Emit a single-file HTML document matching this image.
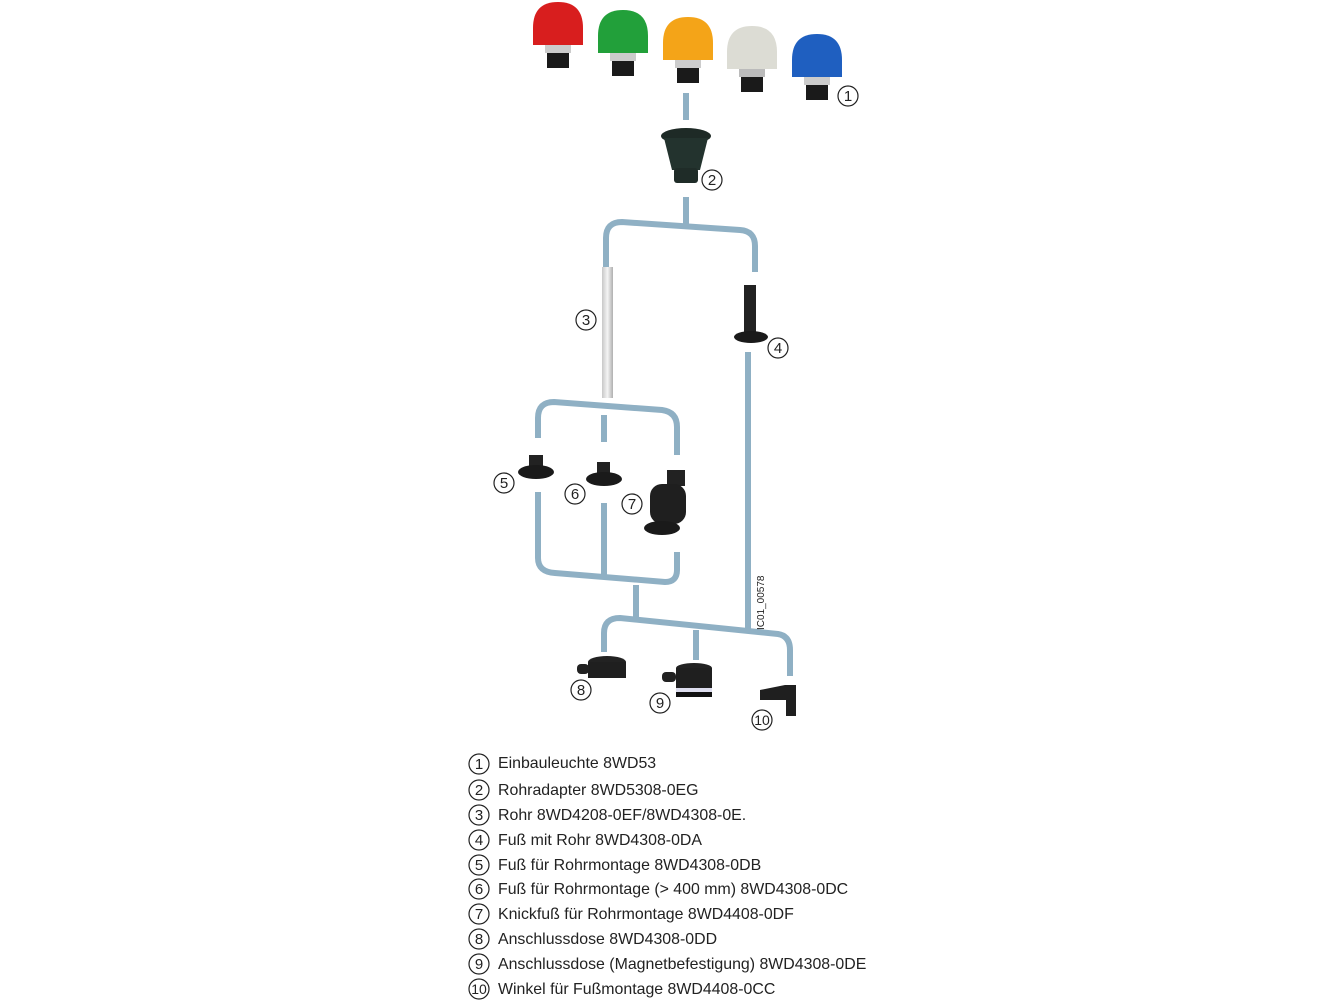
<!DOCTYPE html>
<html><head><meta charset="utf-8"><style>
body{margin:0;background:#fff;width:1333px;height:1000px;overflow:hidden;font-family:"Liberation Sans",sans-serif}
</style></head><body>
<svg width="1333" height="1000" viewBox="0 0 1333 1000" xmlns="http://www.w3.org/2000/svg" font-family="Liberation Sans, sans-serif">
<defs>
<linearGradient id="rod" x1="0" x2="1"><stop offset="0" stop-color="#c8c8c8"/><stop offset=".5" stop-color="#f4f4f4"/><stop offset="1" stop-color="#b0b0b0"/></linearGradient>
</defs>
<!-- lights -->
<g>
<g transform="translate(558,0)"><path d="M-25,45 L-25,28 Q-25,2 0,2 Q25,2 25,28 L25,45 Z" fill="#d81e1e"/><rect x="-13" y="45" width="26" height="8" fill="#ccc"/><rect x="-11" y="53" width="22" height="15" fill="#1a1a1a"/></g>
<g transform="translate(623,8)"><path d="M-25,45 L-25,28 Q-25,2 0,2 Q25,2 25,28 L25,45 Z" fill="#22a03a"/><rect x="-13" y="45" width="26" height="8" fill="#ccc"/><rect x="-11" y="53" width="22" height="15" fill="#1a1a1a"/></g>
<g transform="translate(688,15)"><path d="M-25,45 L-25,28 Q-25,2 0,2 Q25,2 25,28 L25,45 Z" fill="#f4a418"/><rect x="-13" y="45" width="26" height="8" fill="#ccc"/><rect x="-11" y="53" width="22" height="15" fill="#1a1a1a"/></g>
<g transform="translate(752,24)"><path d="M-25,45 L-25,28 Q-25,2 0,2 Q25,2 25,28 L25,45 Z" fill="#dcdcd4"/><rect x="-13" y="45" width="26" height="8" fill="#bbb"/><rect x="-11" y="53" width="22" height="15" fill="#1a1a1a"/></g>
<g transform="translate(817,32)"><path d="M-25,45 L-25,28 Q-25,2 0,2 Q25,2 25,28 L25,45 Z" fill="#1f5fc0"/><rect x="-13" y="45" width="26" height="8" fill="#ccc"/><rect x="-11" y="53" width="22" height="15" fill="#1a1a1a"/></g>
</g>
<!-- pipes -->
<g fill="none" stroke="#8fb0c4" stroke-width="6" stroke-linejoin="round">
<path d="M686,93 V120"/>
<path d="M686,197 V225"/>
<path d="M606,270 V238 Q606,222 622,222 L740,230 Q755,231 755,246 V272"/>
<path d="M748,352 V630"/>
<path d="M538,438 V418 Q538,402 554,402 L662,410 Q677,412 677,427 V455"/>
<path d="M604,415 V442"/>
<path d="M538,492 V558 Q538,572 555,573 L665,582 Q677,582 677,570 V552"/>
<path d="M604,503 V578"/>
<path d="M636,585 V617"/>
<path d="M604,652 V633 Q604,618 620,618 L778,634 Q790,636 790,650 V676"/>
<path d="M696,630 V660"/>
</g>
<!-- adapter 2 -->
<ellipse cx="686" cy="136" rx="25" ry="8" fill="#1e2a26"/>
<path d="M664,138 L672,170 L700,170 L708,138 Z" fill="#23332e"/>
<rect x="674" y="168" width="24" height="15" rx="3" fill="#1f2c28"/>
<!-- rod 3 -->
<rect x="602" y="267" width="11" height="131" fill="url(#rod)"/>
<!-- foot 4 -->
<rect x="744" y="285" width="12" height="48" fill="#222"/>
<ellipse cx="751" cy="337" rx="17" ry="6" fill="#1a1a1a"/>
<!-- 5,6 -->
<rect x="529" y="455" width="14" height="15" fill="#222"/><ellipse cx="536" cy="472" rx="18" ry="7" fill="#1a1a1a"/>
<rect x="597" y="462" width="13" height="15" fill="#222"/><ellipse cx="604" cy="479" rx="18" ry="7" fill="#1a1a1a"/>
<!-- 7 -->
<rect x="667" y="470" width="18" height="16" fill="#222"/>
<rect x="650" y="484" width="36" height="40" rx="12" fill="#1f1f1f"/>
<ellipse cx="662" cy="528" rx="18" ry="7" fill="#1a1a1a"/>
<!-- 8,9,10 -->
<ellipse cx="607" cy="662" rx="19" ry="6" fill="#222"/><rect x="588" y="662" width="38" height="16" fill="#1f1f1f"/><rect x="577" y="664" width="12" height="10" rx="4" fill="#222"/>
<ellipse cx="694" cy="668" rx="18" ry="5" fill="#222"/><rect x="676" y="668" width="36" height="20" fill="#1f1f1f"/><rect x="676" y="688" width="36" height="4" fill="#dde"/><rect x="676" y="692" width="36" height="5" fill="#111"/><rect x="662" y="672" width="14" height="10" rx="4" fill="#222"/>
<path d="M760,690 L785,685 L796,685 V716 H786 V700 L760,700 Z" fill="#1f1f1f"/>
<!-- callouts -->
<g fill="none" stroke="#222" stroke-width="1.2">
<circle cx="848" cy="96" r="10"/><circle cx="712" cy="180" r="10"/><circle cx="586" cy="320" r="10"/><circle cx="778" cy="348" r="10"/>
<circle cx="504" cy="483" r="10"/><circle cx="575" cy="494" r="10"/><circle cx="632" cy="504" r="10"/>
<circle cx="581" cy="690" r="10"/><circle cx="660" cy="703" r="10"/><circle cx="762" cy="720" r="10"/>
</g>
<g font-size="15" text-anchor="middle" fill="#222">
<text x="848" y="101">1</text><text x="712" y="185">2</text><text x="586" y="325">3</text><text x="778" y="353">4</text>
<text x="504" y="488">5</text><text x="575" y="499">6</text><text x="632" y="509">7</text>
<text x="581" y="695">8</text><text x="660" y="708">9</text><text x="762" y="725" font-size="14">10</text>
</g>
<text transform="translate(764,630) rotate(-90)" font-size="10" fill="#222">IC01_00578</text>
<!-- legend -->
<g fill="none" stroke="#222" stroke-width="1.2">
<circle cx="479" cy="764" r="10"/><circle cx="479" cy="790" r="10"/><circle cx="479" cy="815" r="10"/><circle cx="479" cy="840" r="10"/><circle cx="479" cy="865" r="10"/><circle cx="479" cy="889" r="10"/><circle cx="479" cy="914" r="10"/><circle cx="479" cy="939" r="10"/><circle cx="479" cy="964" r="10"/><circle cx="479" cy="989" r="10"/>
</g>
<g font-size="15" text-anchor="middle" fill="#222">
<text x="479" y="769">1</text><text x="479" y="795">2</text><text x="479" y="820">3</text><text x="479" y="845">4</text><text x="479" y="870">5</text><text x="479" y="894">6</text><text x="479" y="919">7</text><text x="479" y="944">8</text><text x="479" y="969">9</text><text x="479" y="994" font-size="14">10</text>
</g>
<g font-size="15.9" fill="#222">
<text x="498" y="768">Einbauleuchte 8WD53</text>
<text x="498" y="795">Rohradapter 8WD5308-0EG</text>
<text x="498" y="820">Rohr 8WD4208-0EF/8WD4308-0E.</text>
<text x="498" y="845">Fuß mit Rohr 8WD4308-0DA</text>
<text x="498" y="870">Fuß für Rohrmontage 8WD4308-0DB</text>
<text x="498" y="894">Fuß für Rohrmontage (&gt; 400 mm) 8WD4308-0DC</text>
<text x="498" y="919">Knickfuß für Rohrmontage 8WD4408-0DF</text>
<text x="498" y="944">Anschlussdose 8WD4308-0DD</text>
<text x="498" y="969">Anschlussdose (Magnetbefestigung) 8WD4308-0DE</text>
<text x="498" y="994">Winkel für Fußmontage 8WD4408-0CC</text>
</g>
</svg>
</body></html>
